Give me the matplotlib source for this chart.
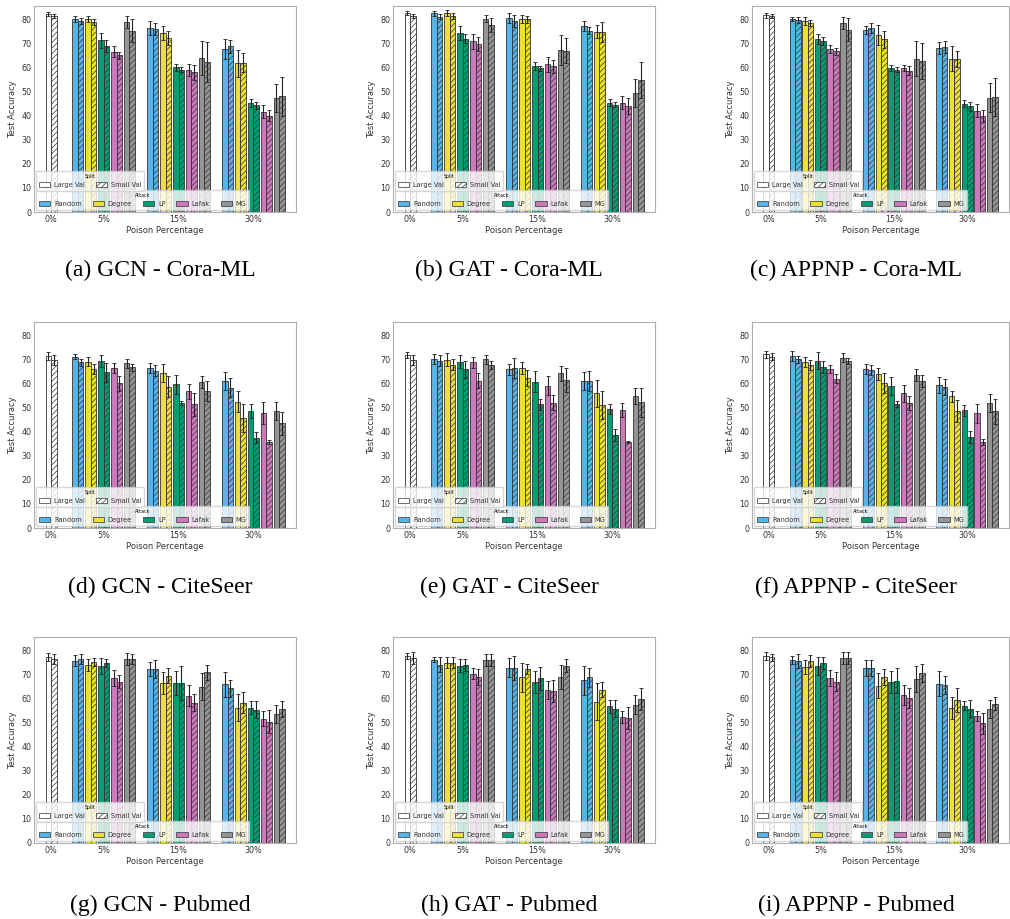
import numpy as np
import matplotlib

matplotlib.use("Agg")
import matplotlib.pyplot as plt
from matplotlib.patches import Patch


ATTACKS = ["Random", "Degree", "LP", "Lafak", "MG"]
ATTACK_COLORS = ["#56B4E9", "#ECE133", "#029E73", "#CC78BC", "#949494"]
PERCENT_LABELS = ["0%", "5%", "15%", "30%"]

# Clean accuracy (0% poison): [large val, small val]
# Poisoned accuracy: rows are 5%, 15%, 30%; columns follow ATTACKS.

# GCN - Cora-ML
gcn_cora_clean = [82.2, 81.2]
gcn_cora_clean_err = [1.0, 0.8]
gcn_cora_large = [[80.1, 80.0, 71.2, 66.5, 78.8],
                  [76.3, 74.2, 60.0, 59.0, 63.8],
                  [67.8, 61.8, 45.2, 41.7, 47.5]]
gcn_cora_large_err = [[1.2, 1.3, 3.2, 2.3, 2.6],
                      [3.0, 2.8, 1.5, 2.4, 7.0],
                      [4.2, 5.6, 1.6, 2.6, 5.8]]
gcn_cora_small = [[79.2, 79.0, 69.0, 65.1, 75.3],
                  [75.8, 72.2, 59.1, 57.9, 62.2],
                  [68.8, 62.0, 44.3, 40.0, 48.0]]
gcn_cora_small_err = [[1.2, 1.2, 2.5, 1.4, 4.6],
                      [2.5, 3.0, 0.9, 3.2, 8.2],
                      [2.6, 3.8, 1.4, 2.4, 8.1]]

# GAT - Cora-ML
gat_cora_clean = [82.5, 81.5]
gat_cora_clean_err = [0.9, 0.8]
gat_cora_large = [[82.5, 82.5, 74.4, 70.8, 80.3],
                  [80.6, 80.1, 60.6, 61.3, 67.4],
                  [77.3, 74.9, 45.4, 45.4, 49.3]]
gat_cora_large_err = [[1.0, 1.2, 2.9, 3.2, 1.5],
                      [2.0, 1.8, 1.6, 3.0, 6.2],
                      [2.0, 2.8, 1.6, 2.8, 5.7]]
gat_cora_small = [[81.1, 81.3, 72.0, 69.9, 77.6],
                  [79.3, 79.9, 59.6, 60.4, 67.0],
                  [75.3, 74.8, 44.6, 44.0, 54.8]]
gat_cora_small_err = [[1.2, 1.2, 1.7, 2.9, 3.0],
                      [2.5, 1.4, 1.0, 2.6, 5.3],
                      [1.3, 4.2, 1.0, 3.3, 7.5]]

# APPNP - Cora-ML
appnp_cora_clean = [81.6, 81.3]
appnp_cora_clean_err = [1.0, 0.9]
appnp_cora_large = [[80.1, 79.3, 71.9, 67.7, 78.6],
                    [75.6, 73.6, 59.9, 59.9, 63.7],
                    [68.0, 63.7, 45.0, 42.1, 47.5]]
appnp_cora_large_err = [[1.0, 1.6, 2.0, 1.7, 2.5],
                        [1.7, 4.1, 1.2, 1.2, 7.1],
                        [2.6, 5.0, 1.6, 2.8, 5.9]]
appnp_cora_small = [[79.6, 78.4, 70.9, 66.7, 75.7],
                    [76.4, 71.7, 59.1, 58.7, 62.5],
                    [68.5, 63.6, 43.9, 40.0, 47.8]]
appnp_cora_small_err = [[1.3, 1.4, 1.7, 1.4, 4.8],
                        [2.0, 3.5, 1.0, 1.7, 7.5],
                        [2.3, 3.4, 1.8, 2.5, 8.0]]

# GCN - CiteSeer
gcn_cite_clean = [71.3, 69.8]
gcn_cite_clean_err = [1.6, 2.0]
gcn_cite_large = [[71.1, 69.1, 69.2, 66.4, 68.3],
                  [66.3, 64.2, 59.7, 56.7, 60.5],
                  [61.0, 52.5, 48.4, 47.8, 48.5]]
gcn_cite_large_err = [[1.0, 1.8, 2.5, 2.0, 1.8],
                      [2.0, 3.7, 4.0, 3.0, 2.5],
                      [3.6, 4.5, 2.9, 4.7, 3.7]]
gcn_cite_small = [[68.7, 65.9, 64.6, 60.0, 66.7],
                  [65.3, 58.6, 52.0, 51.3, 57.0],
                  [58.3, 45.6, 37.4, 35.8, 43.5]]
gcn_cite_small_err = [[1.5, 2.0, 3.8, 3.0, 1.5],
                      [2.3, 4.4, 0.8, 4.7, 4.2],
                      [3.8, 5.7, 2.3, 0.8, 4.7]]

# GAT - CiteSeer
gat_cite_clean = [71.7, 69.6]
gat_cite_clean_err = [1.2, 2.0]
gat_cite_large = [[70.2, 69.9, 69.1, 68.8, 70.0],
                  [65.9, 66.4, 60.7, 59.1, 64.2],
                  [61.0, 56.0, 49.3, 48.9, 54.8]]
gat_cite_large_err = [[2.0, 2.6, 2.7, 2.3, 1.9],
                      [2.2, 2.6, 4.4, 3.9, 3.0],
                      [3.6, 5.6, 2.0, 2.8, 3.2]]
gat_cite_small = [[69.5, 67.8, 65.9, 61.2, 67.6],
                  [66.4, 62.1, 51.3, 52.0, 61.6],
                  [61.0, 50.9, 38.5, 35.7, 52.2]]
gat_cite_small_err = [[2.2, 2.3, 3.6, 3.3, 1.6],
                      [4.0, 3.3, 2.2, 3.2, 5.0],
                      [4.0, 5.8, 2.5, 0.6, 6.0]]

# APPNP - CiteSeer
appnp_cite_clean = [72.1, 71.1]
appnp_cite_clean_err = [1.5, 1.4]
appnp_cite_large = [[71.3, 69.0, 69.4, 65.9, 70.7],
                    [65.9, 63.8, 58.9, 55.9, 63.4],
                    [59.3, 54.7, 48.9, 47.6, 51.9]]
appnp_cite_large_err = [[2.0, 2.0, 3.6, 1.6, 2.0],
                        [2.0, 2.5, 3.7, 3.6, 2.5],
                        [3.3, 2.3, 2.3, 4.0, 3.6]]
appnp_cite_small = [[70.0, 67.6, 66.9, 61.9, 69.2],
                    [65.6, 60.2, 51.5, 51.8, 61.2],
                    [58.4, 48.5, 37.7, 35.6, 48.4]]
appnp_cite_small_err = [[1.5, 2.0, 2.5, 1.9, 1.3],
                        [2.0, 4.0, 1.2, 2.8, 2.5],
                        [3.3, 4.6, 2.4, 1.2, 5.3]]

# GCN - Pubmed
gcn_pubmed_clean = [77.2, 76.4]
gcn_pubmed_clean_err = [1.6, 2.2]
gcn_pubmed_large = [[75.6, 73.9, 73.5, 68.6, 76.4],
                    [72.2, 66.4, 66.5, 61.2, 64.9],
                    [65.9, 56.2, 56.2, 51.6, 53.4]]
gcn_pubmed_large_err = [[2.3, 2.6, 3.2, 3.4, 2.6],
                        [2.8, 4.5, 5.0, 4.2, 5.6],
                        [5.2, 5.6, 2.6, 3.2, 3.8]]
gcn_pubmed_small = [[76.4, 75.2, 74.7, 67.0, 76.3],
                    [72.2, 69.5, 66.5, 58.3, 70.8],
                    [64.2, 58.3, 55.4, 50.4, 55.8]]
gcn_pubmed_small_err = [[2.0, 1.7, 1.8, 2.7, 2.0],
                        [3.8, 3.0, 7.0, 3.5, 3.0],
                        [3.4, 4.2, 3.5, 4.7, 3.3]]

# GAT - Pubmed
gat_pubmed_clean = [77.5, 76.7]
gat_pubmed_clean_err = [1.2, 2.5]
gat_pubmed_large = [[76.0, 74.9, 73.6, 70.3, 76.0],
                    [72.7, 68.8, 66.9, 63.4, 68.9],
                    [67.5, 58.7, 56.7, 52.2, 57.4]]
gat_pubmed_large_err = [[1.0, 2.4, 2.8, 2.4, 2.4],
                        [4.0, 6.0, 4.5, 3.7, 5.0],
                        [6.0, 7.8, 2.6, 2.6, 4.0]]
gat_pubmed_small = [[74.0, 74.8, 73.8, 68.9, 76.0],
                    [72.8, 72.1, 68.4, 63.1, 73.6],
                    [68.8, 63.6, 55.8, 51.9, 59.9]]
gat_pubmed_small_err = [[3.0, 2.2, 2.4, 3.2, 2.4],
                        [5.0, 2.0, 4.8, 4.7, 2.8],
                        [4.0, 3.2, 3.6, 4.5, 4.5]]

# APPNP - Pubmed
appnp_pubmed_clean = [77.6, 77.1]
appnp_pubmed_clean_err = [1.5, 1.5]
appnp_pubmed_large = [[76.0, 73.1, 73.6, 68.6, 76.7],
                      [72.7, 65.2, 66.9, 61.5, 68.1],
                      [66.2, 56.1, 57.0, 52.7, 55.6]]
appnp_pubmed_large_err = [[1.5, 3.0, 3.8, 3.3, 2.5],
                          [3.2, 5.2, 4.5, 4.2, 5.4],
                          [5.0, 4.7, 1.8, 2.0, 3.6]]
appnp_pubmed_small = [[75.6, 75.7, 74.7, 67.0, 76.6],
                      [72.7, 68.9, 67.4, 60.1, 70.6],
                      [65.6, 59.4, 55.8, 49.6, 57.8]]
appnp_pubmed_small_err = [[3.0, 2.5, 2.4, 4.0, 2.5],
                          [3.4, 3.3, 5.2, 4.2, 3.6],
                          [3.8, 5.0, 3.4, 4.3, 2.7]]


PANELS = [
    ("(a) GCN - Cora-ML", gcn_cora_clean, gcn_cora_clean_err, gcn_cora_large,
     gcn_cora_large_err, gcn_cora_small, gcn_cora_small_err),
    ("(b) GAT - Cora-ML", gat_cora_clean, gat_cora_clean_err, gat_cora_large,
     gat_cora_large_err, gat_cora_small, gat_cora_small_err),
    ("(c) APPNP - Cora-ML", appnp_cora_clean, appnp_cora_clean_err, appnp_cora_large,
     appnp_cora_large_err, appnp_cora_small, appnp_cora_small_err),
    ("(d) GCN - CiteSeer", gcn_cite_clean, gcn_cite_clean_err, gcn_cite_large,
     gcn_cite_large_err, gcn_cite_small, gcn_cite_small_err),
    ("(e) GAT - CiteSeer", gat_cite_clean, gat_cite_clean_err, gat_cite_large,
     gat_cite_large_err, gat_cite_small, gat_cite_small_err),
    ("(f) APPNP - CiteSeer", appnp_cite_clean, appnp_cite_clean_err, appnp_cite_large,
     appnp_cite_large_err, appnp_cite_small, appnp_cite_small_err),
    ("(g) GCN - Pubmed", gcn_pubmed_clean, gcn_pubmed_clean_err, gcn_pubmed_large,
     gcn_pubmed_large_err, gcn_pubmed_small, gcn_pubmed_small_err),
    ("(h) GAT - Pubmed", gat_pubmed_clean, gat_pubmed_clean_err, gat_pubmed_large,
     gat_pubmed_large_err, gat_pubmed_small, gat_pubmed_small_err),
    ("(i) APPNP - Pubmed", appnp_pubmed_clean, appnp_pubmed_clean_err, appnp_pubmed_large,
     appnp_pubmed_large_err, appnp_pubmed_small, appnp_pubmed_small_err),
]

GROUP_CENTERS = [0.3, 1.0, 2.0, 3.0]
BAR_WIDTH = 0.075
ATTACK_STEP = 0.1725
HATCH = "//////"
EDGE = "#333333"
TEXT = "#333333"

plt.rcParams["hatch.linewidth"] = 0.5
plt.rcParams["font.family"] = "DejaVu Sans"

FIG_W, FIG_H = 1010, 919
COL_LEFT = [34, 393, 752]
COL_WIDTH = [262, 262, 257]
ROW_TOP = [6, 322, 637]
AX_HEIGHT = 206
CAPTION_X = [160, 509, 856]
CAPTION_Y = [270, 587, 905]

ERR_KW = dict(ecolor="#222222", elinewidth=0.8, capthick=0.6)
LEGEND_KW = dict(loc="lower left", borderaxespad=0, fontsize=4.8,
                 title_fontsize=3.4, columnspacing=1.6, handletextpad=0.6,
                 handlelength=1.7, edgecolor="#cccccc", framealpha=0.8)


def draw_panel(ax, clean, clean_err, large, large_err, small, small_err):
    # Unpoisoned baseline: one white pair
    c0 = GROUP_CENTERS[0]
    ax.bar(c0 - BAR_WIDTH / 2, clean[0], BAR_WIDTH, yerr=clean_err[0],
           color="white", edgecolor=EDGE, linewidth=0.6,
           capsize=1.5, error_kw=ERR_KW)
    ax.bar(c0 + BAR_WIDTH / 2, clean[1], BAR_WIDTH, yerr=clean_err[1],
           color="white", edgecolor=EDGE, linewidth=0.6, hatch=HATCH,
           capsize=1.5, error_kw=ERR_KW)

    # Poisoned groups
    for g, center in enumerate(GROUP_CENTERS[1:]):
        for a, color in enumerate(ATTACK_COLORS):
            x = center + (a - 2) * ATTACK_STEP
            ax.bar(x - BAR_WIDTH / 2, large[g][a], BAR_WIDTH, yerr=large_err[g][a],
                   color=color, edgecolor=EDGE, linewidth=0.6,
                   capsize=1.5, error_kw=ERR_KW)
            ax.bar(x + BAR_WIDTH / 2, small[g][a], BAR_WIDTH, yerr=small_err[g][a],
                   color=color, edgecolor=EDGE, linewidth=0.6, hatch=HATCH,
                   capsize=1.5, error_kw=ERR_KW)

    ax.set_xlim(0.069, 3.57)
    ax.set_ylim(0, 85.5)
    ax.set_yticks(np.arange(0, 81, 10))
    ax.set_xticks(GROUP_CENTERS)
    ax.set_xticklabels(PERCENT_LABELS)
    ax.tick_params(length=0, labelsize=5.8, labelcolor=TEXT, pad=2)
    ax.set_xlabel("Poison Percentage", fontsize=6.0, color=TEXT, labelpad=1.5)
    ax.set_ylabel("Test Accuracy", fontsize=6.0, color=TEXT, labelpad=3)
    for spine in ax.spines.values():
        spine.set_color("#b0b0b0")
        spine.set_linewidth(0.8)

    attack_handles = [Patch(facecolor=c, edgecolor=EDGE, linewidth=0.5, label=n)
                      for c, n in zip(ATTACK_COLORS, ATTACKS)]
    split_handles = [
        Patch(facecolor="white", edgecolor=EDGE, linewidth=0.5, label="Large Val"),
        Patch(facecolor="white", edgecolor=EDGE, linewidth=0.5, hatch=HATCH,
              label="Small Val"),
    ]
    leg_attack = ax.legend(handles=attack_handles, title="Attack", ncol=5,
                           bbox_to_anchor=(0.008, 0.012), **LEGEND_KW)
    for t in leg_attack.get_texts():
        t.set_color(TEXT)
    ax.add_artist(leg_attack)
    leg_split = ax.legend(handles=split_handles, title="Split", ncol=2,
                          bbox_to_anchor=(0.008, 0.103), **LEGEND_KW)
    for t in leg_split.get_texts():
        t.set_color(TEXT)


fig = plt.figure(figsize=(FIG_W / 100, FIG_H / 100), dpi=100)

for i, (caption, *values) in enumerate(PANELS):
    row, col = divmod(i, 3)
    rect = [COL_LEFT[col] / FIG_W,
            1 - (ROW_TOP[row] + AX_HEIGHT) / FIG_H,
            COL_WIDTH[col] / FIG_W,
            AX_HEIGHT / FIG_H]
    ax = fig.add_axes(rect)
    draw_panel(ax, *values)
    fig.text(CAPTION_X[col] / FIG_W, 1 - CAPTION_Y[row] / FIG_H, caption,
             ha="center", va="center", fontsize=17, family="Liberation Serif")

fig.savefig("out.png", dpi=100)
